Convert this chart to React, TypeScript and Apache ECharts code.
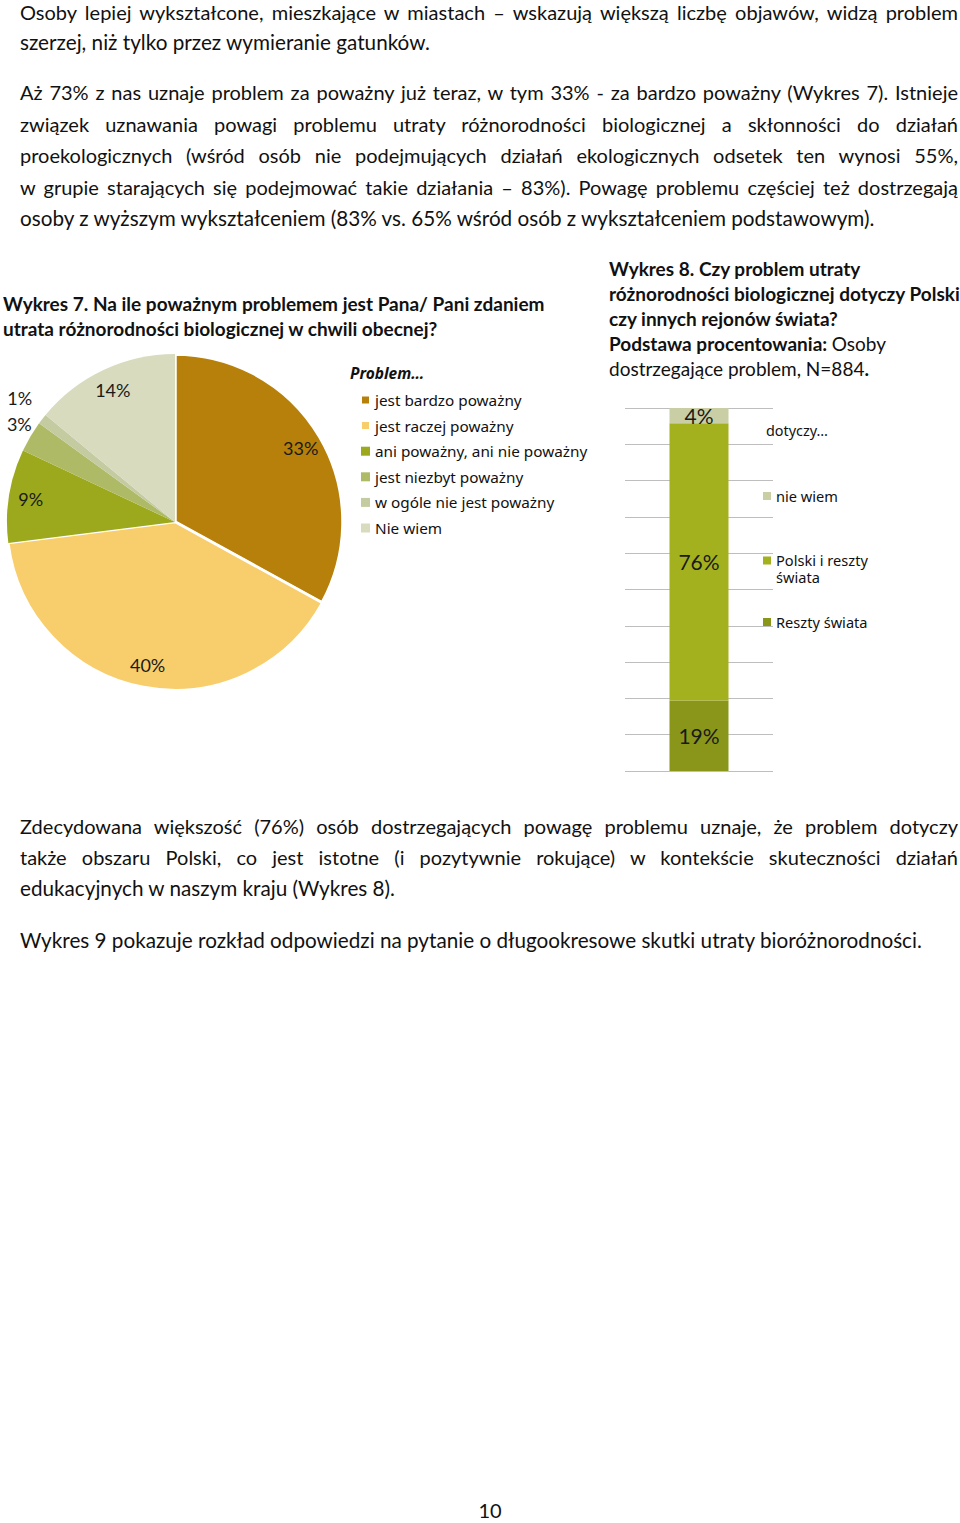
import React, { useEffect, useRef } from 'react';
import * as echarts from 'echarts';

// ---------- DATA ----------
const pieCategories = [
  'jest bardzo poważny',
  'jest raczej poważny',
  'ani poważny, ani nie poważny',
  'jest niezbyt poważny',
  'w ogóle nie jest poważny',
  'Nie wiem',
];
const pieValues = [33, 40, 9, 3, 1, 14];
const pieColors = ['#B7800B', '#F8CD6C', '#9CA91D', '#AFBA66', '#C5CBA1', '#D8DBBE'];

const barCategories = ['dotyczy…'];
const barSeriesNames = ['Reszty świata', 'Polski i reszty świata', 'nie wiem'];
const barValues = [19.4, 76.4, 4.2];
const barColors = ['#8A961A', '#A4B11F', '#C9CEA5'];

const paragraphs: { lines: string[]; y: number[] }[] = [
  {
    lines: [
      'Osoby lepiej wykształcone, mieszkające w miastach – wskazują większą liczbę objawów, widzą problem',
      'szerzej, niż tylko przez wymieranie gatunków.',
    ],
    y: [12, 42],
  },
  {
    lines: [
      'Aż 73% z nas uznaje problem za poważny już teraz, w tym 33% - za bardzo poważny (Wykres 7). Istnieje',
      'związek uznawania powagi problemu utraty różnorodności biologicznej a skłonności do działań',
      'proekologicznych (wśród osób nie podejmujących działań ekologicznych odsetek ten wynosi 55%,',
      'w grupie starających się podejmować takie działania – 83%). Powagę problemu częściej też dostrzegają',
      'osoby z wyższym wykształceniem (83% vs. 65% wśród osób z wykształceniem podstawowym).',
    ],
    y: [92, 124, 155, 187, 218],
  },
  {
    lines: [
      'Zdecydowana większość (76%) osób dostrzegających powagę problemu uznaje, że problem dotyczy',
      'także obszaru Polski, co jest istotne (i pozytywnie rokujące) w kontekście skuteczności działań',
      'edukacyjnych w naszym kraju (Wykres 8).',
    ],
    y: [826, 857, 888],
  },
  {
    lines: ['Wykres 9 pokazuje rozkład odpowiedzi na pytanie o długookresowe skutki utraty bioróżnorodności.'],
    y: [940],
  },
];

const BODY_FONT = 'Lato, "Open Sans", sans-serif';
const LEGEND_FONT = '"Noto Sans", "DejaVu Sans", sans-serif';

function Chart() {
  const ref = useRef<HTMLDivElement>(null);
  useEffect(() => {
    if (!ref.current) return;
    const chart = echarts.init(ref.current, undefined, { renderer: 'svg' });
    const total = pieValues.reduce((a, b) => a + b, 0);
    const labelOffsets: Record<number, number[]> = { 3: [-30, -24], 4: [-40, -35] };
    const option: any = {
      animation: false,
      backgroundColor: 'transparent',
      title: [
        {
          left: 3,
          top: 41,
          padding: 0,
          text: 'Wykres 7. Na ile poważnym problemem jest Pana/ Pani zdaniem\nutrata różnorodności biologicznej w chwili obecnej?',
          textStyle: { fontFamily: BODY_FONT, fontWeight: 'bold', fontSize: 19, lineHeight: 25, color: '#111' },
        },
        {
          left: 350,
          top: 113,
          padding: 0,
          text: 'Problem…',
          textStyle: { fontFamily: LEGEND_FONT, fontWeight: 'bold', fontStyle: 'italic', fontSize: 15.5, lineHeight: 20, color: '#111' },
        },
        {
          left: 609,
          top: 6,
          padding: 0,
          text:
            '{b|Wykres 8. Czy problem utraty}\n{b|różnorodności biologicznej dotyczy Polski}\n{b|czy innych rejonów świata?}\n{b|Podstawa procentowania:} {n|Osoby}\n{n|dostrzegające problem, N=884}{b|.}',
          textStyle: {
            fontFamily: BODY_FONT,
            fontSize: 19,
            lineHeight: 25,
            color: '#111',
            rich: {
              b: { fontFamily: BODY_FONT, fontWeight: 'bold', fontSize: 19, lineHeight: 25, color: '#111' },
              n: { fontFamily: BODY_FONT, fontWeight: 'normal', fontSize: 19, lineHeight: 25, color: '#111' },
            },
          },
        },
        {
          left: 766,
          top: 170,
          padding: 0,
          text: barCategories[0],
          textStyle: { fontFamily: LEGEND_FONT, fontWeight: 'normal', fontSize: 14.4, lineHeight: 20, color: '#111' },
        },
      ],
      legend: [
        {
          data: pieCategories,
          orient: 'vertical',
          left: 360,
          top: 142,
          padding: 0,
          itemWidth: 9,
          itemHeight: 9,
          itemGap: 9.6,
          icon: 'rect',
          textStyle: { fontFamily: LEGEND_FONT, fontSize: 15.3, lineHeight: 16, color: '#111' },
        },
        {
          data: [{ name: barSeriesNames[2], icon: 'rect' }],
          left: 763,
          top: 238,
          padding: 0,
          itemWidth: 8,
          itemHeight: 8,
          textStyle: { fontFamily: LEGEND_FONT, fontSize: 14.6, lineHeight: 16, color: '#111' },
        },
        {
          data: [{ name: barSeriesNames[1], icon: 'path://M0,0H9V9H0Z M0,26H0.05V26.05H0Z' }],
          left: 763,
          top: 301,
          padding: 0,
          itemWidth: 8,
          itemHeight: 26,
          formatter: (n: string) => n.replace('reszty ', 'reszty\n'),
          textStyle: { fontFamily: LEGEND_FONT, fontSize: 14.6, lineHeight: 17, color: '#111' },
        },
        {
          data: [{ name: barSeriesNames[0], icon: 'rect' }],
          left: 763,
          top: 364,
          padding: 0,
          itemWidth: 8,
          itemHeight: 8,
          textStyle: { fontFamily: LEGEND_FONT, fontSize: 14.6, lineHeight: 16, color: '#111' },
        },
      ],
      grid: { left: 625, top: 158, width: 148, height: 363, containLabel: false },
      xAxis: {
        type: 'category',
        data: barCategories,
        axisLine: { show: false },
        axisTick: { show: false },
        axisLabel: { show: false },
      },
      yAxis: {
        type: 'value',
        min: 0,
        max: 100,
        interval: 10,
        axisLine: { show: false },
        axisTick: { show: false },
        axisLabel: { show: false },
        splitLine: { lineStyle: { color: '#BEBEBE', width: 1 } },
      },
      series: [
        {
          type: 'pie',
          name: 'Problem',
          center: [175, 272],
          radius: [0, 168],
          startAngle: 90,
          clockwise: true,
          silent: true,
          label: { show: false },
          labelLine: { show: false },
          data: pieCategories.map((name, i) => ({
            name,
            value: pieValues[i],
            itemStyle: {
              color: pieColors[i],
              borderColor: '#fff',
              borderWidth: i === 0 ? 3.5 : i === 1 ? 2.5 : 0,
            },
          })),
        },
        {
          type: 'pie',
          name: 'labels',
          center: [175, 272],
          radius: [0, 286],
          startAngle: 90,
          clockwise: true,
          silent: true,
          z: 3,
          legendHoverLink: false,
          itemStyle: { color: 'rgba(0,0,0,0)' },
          labelLine: { show: false },
          label: {
            show: true,
            position: 'inside',
            fontFamily: BODY_FONT,
            fontSize: 18,
            color: '#1a1a1a',
            formatter: (p: any) => Math.round((p.value / total) * 100) + '%',
          },
          data: pieCategories.map((name, i) => ({
            name: name + ' ',
            value: pieValues[i],
            label: labelOffsets[i] ? { offset: labelOffsets[i] } : undefined,
          })),
        },
        ...barSeriesNames.map((name, i) => ({
          type: 'bar',
          name,
          stack: 'total',
          barWidth: 59,
          itemStyle: { color: barColors[i] },
          label: {
            show: true,
            position: 'inside',
            fontFamily: BODY_FONT,
            fontSize: 21,
            color: '#1a1a1a',
            formatter: (p: any) => Math.round(p.value) + '%',
          },
          data: [barValues[i]],
        })),
      ],
      color: pieColors,
    };
    chart.setOption(option);
    return () => chart.dispose();
  }, []);
  return <div ref={ref} style={{ position: 'absolute', left: 0, top: 250, width: 960, height: 540 }} />;
}

export default function App() {
  return (
    <div
      style={{
        position: 'absolute',
        left: 0,
        top: 0,
        width: 960,
        height: 1523,
        background: '#fff',
        fontFamily: BODY_FONT,
        color: '#111',
        overflow: 'hidden',
      }}
    >
      {paragraphs.map((p, pi) =>
        p.lines.map((line, li) => {
          const last = li === p.lines.length - 1;
          return (
            <div
              key={pi + '-' + li}
              style={{
                position: 'absolute',
                left: 20,
                width: 938,
                top: p.y[li] - 12,
                height: 24,
                fontSize: last ? 20.7 : 20,
                lineHeight: '24px',
                textAlign: last ? 'left' : 'justify',
                textAlignLast: last ? 'left' : 'justify',
              }}
            >
              {line}
            </div>
          );
        })
      )}
      <Chart />
      <div
        style={{
          position: 'absolute',
          left: 470,
          width: 40,
          top: 1498,
          height: 24,
          lineHeight: '24px',
          fontSize: 20,
          textAlign: 'center',
        }}
      >
        10
      </div>
    </div>
  );
}
